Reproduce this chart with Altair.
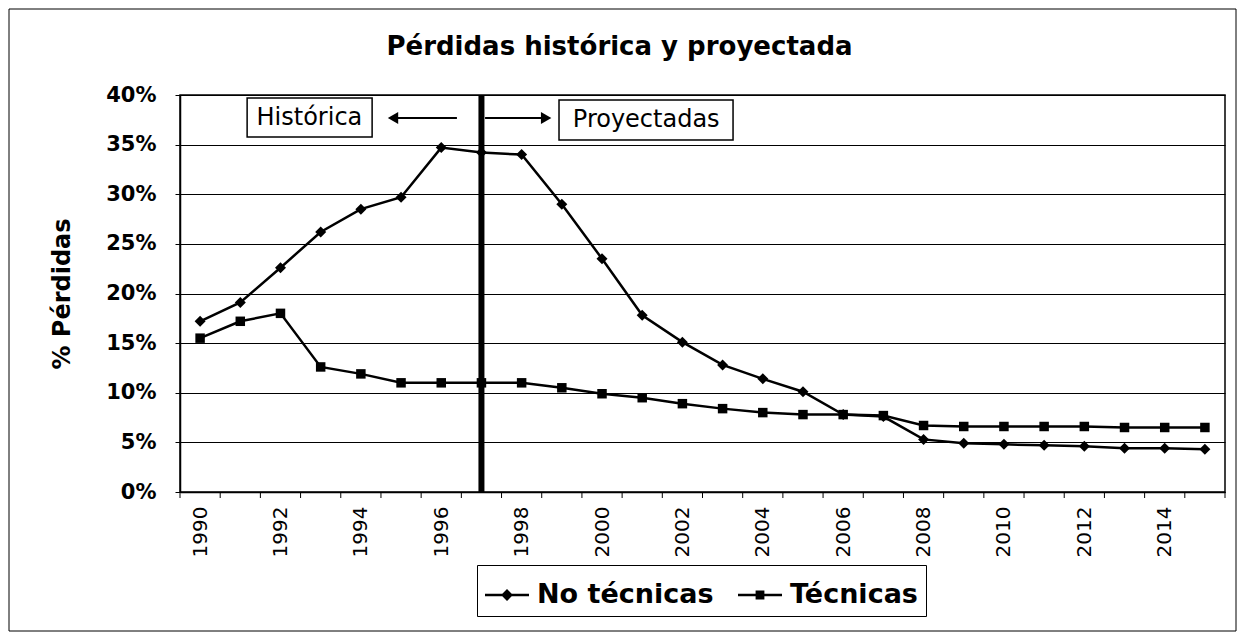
import altair as alt
import pandas as pd

# ---------------- data ----------------
years = list(range(1990, 2016))
no_tecnicas = [17.2, 19.1, 22.6, 26.2, 28.5, 29.7, 34.7, 34.2, 34.0, 29.0,
               23.5, 17.8, 15.1, 12.8, 11.4, 10.1, 7.8, 7.6, 5.3, 4.9,
               4.8, 4.7, 4.6, 4.4, 4.4, 4.3]
tecnicas = [15.5, 17.2, 18.0, 12.6, 11.9, 11.0, 11.0, 11.0, 11.0, 10.5,
            9.9, 9.5, 8.9, 8.4, 8.0, 7.8, 7.8, 7.7, 6.7, 6.6,
            6.6, 6.6, 6.6, 6.5, 6.5, 6.5]
series_names = ["No técnicas", "Técnicas"]
y_ticks = [0, 0.05, 0.10, 0.15, 0.20, 0.25, 0.30, 0.35, 0.40]
x_label_years = list(range(1990, 2015, 2))
tick_bounds = [y - 0.5 for y in range(1990, 2017)]
title_text = "Pérdidas histórica y proyectada"
y_title = "% Pérdidas"
label_hist = "Histórica"
label_proj = "Proyectadas"

rows = []
for yr, v in zip(years, no_tecnicas):
    rows.append({"year": yr, "value": v / 100, "series": series_names[0]})
for yr, v in zip(years, tecnicas):
    rows.append({"year": yr, "value": v / 100, "series": series_names[1]})
df = pd.DataFrame(rows)
df_ticks = pd.DataFrame({"b": tick_bounds})
one = pd.DataFrame({"k": [0]})

W, H = 1045, 397
FONT = "DejaVu Sans"

xs = alt.Scale(domain=[1989.5, 2015.5], nice=False, zero=False)
ys = alt.Scale(domain=[0, 0.4], nice=False)

x_enc = alt.X("year:Q", scale=xs, title=None,
              axis=alt.Axis(values=x_label_years, format="d", labelAngle=-90,
                            ticks=False, grid=False, labelPadding=14,
                            labelFont=FONT, labelFontSize=20, labelColor="black",
                            domainColor="black", domainWidth=1.5))
y_enc = alt.Y("value:Q", scale=ys, title=y_title,
              axis=alt.Axis(values=y_ticks, format=".0%", grid=True,
                            gridColor="black", gridWidth=1.2, tickSize=5,
                            tickColor="black", domainColor="black", domainWidth=1.5,
                            labelPadding=19, labelFont=FONT, labelFontSize=21,
                            labelFontWeight="bold", labelColor="black",
                            titleFont=FONT, titleFontSize=24, titleFontWeight="bold",
                            titleColor="black", titleX=-118, titleY=H / 2,
                            titleBaseline="middle"))

base = alt.Chart(df)

lines = base.mark_line(color="black", strokeWidth=2.5).encode(
    x=x_enc, y=y_enc, detail="series:N")

diamonds = base.transform_filter(alt.datum.series == series_names[0]).mark_point(
    shape="diamond", filled=True, color="black", size=121, opacity=1).encode(
    x="year:Q", y="value:Q")

squares = base.transform_filter(alt.datum.series == series_names[1]).mark_point(
    shape="square", filled=True, color="black", size=90, opacity=1).encode(
    x="year:Q", y="value:Q")

# legend symbols: a short line with the marker on it (all filled sub-paths)
sym_diamond = ("M-1,-0.055L1,-0.055L1,0.055L-1,0.055Z"
               "M0,-0.27L0.27,0L0,0.27L-0.27,0Z")
sym_square = ("M-1,-0.055L1,-0.055L1,0.055L-1,0.055Z"
              "M-0.2,-0.2L0.2,-0.2L0.2,0.2L-0.2,0.2Z")

legend_layer = base.transform_filter("false").mark_point(
    filled=True, color="black", opacity=1).encode(
    x="year:Q", y="value:Q",
    shape=alt.Shape("series:N",
                    scale=alt.Scale(domain=series_names, range=[sym_diamond, sym_square]),
                    legend=alt.Legend(orient="none", legendX=297, legendY=470,
                                      direction="horizontal", title=None,
                                      strokeColor="black", padding=8,
                                      labelFont=FONT, labelFontWeight="bold",
                                      labelFontSize=27, labelColor="black",
                                      labelLimit=400,
                                      symbolSize=1936, symbolStrokeWidth=0,
                                      symbolFillColor="black", labelOffset=8,
                                      columnPadding=24)))

xticks = alt.Chart(df_ticks).mark_rule(color="black", strokeWidth=1).encode(
    x="b:Q", y=alt.value(H), y2=alt.value(H + 6))

divider = alt.Chart(one).mark_rule(color="black", strokeWidth=6).encode(
    x=alt.datum(1997), y=alt.datum(0), y2=alt.datum(0.4))

box_h = alt.Chart(one).mark_rect(fill="white", stroke="black", strokeWidth=1.5).encode(
    x=alt.datum(1991.17), x2=alt.datum(1994.28), y=alt.datum(0.397), y2=alt.datum(0.3577))
box_p = alt.Chart(one).mark_rect(fill="white", stroke="black", strokeWidth=1.5).encode(
    x=alt.datum(1998.93), x2=alt.datum(2003.26), y=alt.datum(0.395), y2=alt.datum(0.3547))
txt_h = alt.Chart(one).mark_text(font=FONT, fontSize=24, color="black").encode(
    x=alt.datum(1992.72), y=alt.datum(0.3768), text=alt.value(label_hist))
txt_p = alt.Chart(one).mark_text(font=FONT, fontSize=24, color="black").encode(
    x=alt.datum(2001.1), y=alt.datum(0.3748), text=alt.value(label_proj))

shaft_l = alt.Chart(one).mark_rule(color="black", strokeWidth=2).encode(
    x=alt.datum(1994.8), x2=alt.datum(1996.39), y=alt.datum(0.3768))
head_l = alt.Chart(one).mark_point(shape="triangle-left", filled=True, color="black",
                                   size=144, opacity=1).encode(
    x=alt.datum(1994.8), y=alt.datum(0.3768))
shaft_r = alt.Chart(one).mark_rule(color="black", strokeWidth=2).encode(
    x=alt.datum(1997.09), x2=alt.datum(1998.61), y=alt.datum(0.3768))
head_r = alt.Chart(one).mark_point(shape="triangle-right", filled=True, color="black",
                                   size=144, opacity=1).encode(
    x=alt.datum(1998.61), y=alt.datum(0.3768))

frame = alt.Chart(one).mark_rect(fill="transparent", stroke="black", strokeWidth=1).encode(
    x=alt.value(-171), x2=alt.value(W + 11), y=alt.value(-86), y2=alt.value(H + 139))

chart = alt.layer(
    frame, lines, xticks, divider, diamonds, squares, legend_layer,
    box_h, box_p, txt_h, txt_p, shaft_l, head_l, shaft_r, head_r
).properties(
    width=W, height=H,
    title=alt.TitleParams(title_text, font=FONT, fontSize=26, fontWeight="bold",
                          color="black", anchor="middle", dx=-83, offset=-51),
    autosize=alt.AutoSizeParams(type="none"),
    padding={"left": 172, "top": 87, "right": 12, "bottom": 140},
    background="white",
).configure_view(stroke="black", strokeWidth=1.5)

chart.save("out.html", embed_options={"renderer": "svg", "actions": False})
